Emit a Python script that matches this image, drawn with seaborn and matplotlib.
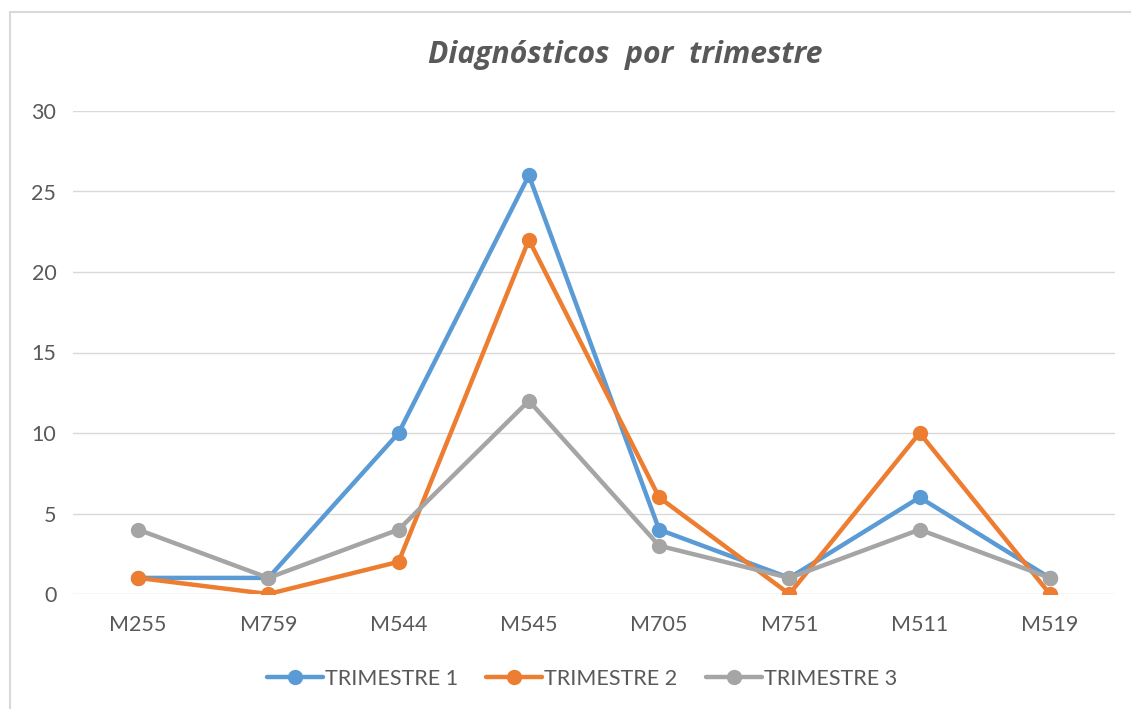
import matplotlib
matplotlib.use("Agg")
import matplotlib.pyplot as plt
import seaborn as sns
import pandas as pd
from matplotlib.lines import Line2D

categories = ["M255", "M759", "M544", "M545", "M705", "M751", "M511", "M519"]
trimestre_1 = [1, 1, 10, 26, 4, 1, 6, 1]
trimestre_2 = [1, 0, 2, 22, 6, 0, 10, 0]
trimestre_3 = [4, 1, 4, 12, 3, 1, 4, 1]
series_names = ["TRIMESTRE 1", "TRIMESTRE 2", "TRIMESTRE 3"]
y_ticks = [0, 5, 10, 15, 20, 25, 30]

rows = []
for name, vals in zip(series_names, [trimestre_1, trimestre_2, trimestre_3]):
    for c, v in zip(categories, vals):
        rows.append({"cat": c, "val": v, "serie": name})
df = pd.DataFrame(rows)

sns.set_theme(style="white")
plt.rcParams["font.family"] = ["Lato", "DejaVu Sans"]

palette = {"TRIMESTRE 1": "#5B9BD5", "TRIMESTRE 2": "#ED7D31", "TRIMESTRE 3": "#A5A5A5"}
text_color = "#595959"

fig = plt.figure(figsize=(11.31, 7.09), dpi=100)
ax = fig.add_axes([73/1131, 1-594/709, (1115-73)/1131, (594-111)/709])

sns.lineplot(data=df, x="cat", y="val", hue="serie", hue_order=series_names,
             palette=palette, marker="o", markersize=11, linewidth=3.2,
             markeredgewidth=0, sort=False, ax=ax, legend=True, zorder=3)

ax.set_ylim(0, 30)
ax.set_xlim(-0.5, len(categories) - 0.5)
ax.set_yticks(y_ticks)
ax.set_xticks(range(len(categories)))
ax.set_xticklabels(categories)
ax.set_xlabel("")
ax.set_ylabel("")
ax.grid(axis="y", color="#D9D9D9", linewidth=1.0)
ax.set_axisbelow(True)
for s in ax.spines.values():
    s.set_visible(False)
ax.tick_params(axis="both", length=0, labelsize=15.5, colors=text_color)
ax.tick_params(axis="x", pad=15)
ax.tick_params(axis="y", pad=12)

handles, labels = ax.get_legend_handles_labels()
ax.get_legend().remove()
fig.legend(handles, labels, loc="center", bbox_to_anchor=(582/1131, 1-679/709),
           ncol=3, frameon=False, fontsize=15.5, labelcolor=text_color,
           handlelength=2.6, handletextpad=0.1, columnspacing=1.3)

fig.text(625/1131, 1-55/709, "Diagnósticos  por  trimestre", ha="center", va="center",
         fontsize=21.7, fontweight="bold", fontstyle="italic", color=text_color,
         family=["Open Sans", "DejaVu Sans"])

fig.add_artist(Line2D([10/1131, 10/1131], [0, 1-12/709], transform=fig.transFigure,
                      color="#D9D9D9", linewidth=1.5))
fig.add_artist(Line2D([10/1131, 1], [1-12/709, 1-12/709], transform=fig.transFigure,
                      color="#D9D9D9", linewidth=1.5))

fig.savefig("out.png", dpi=100)
